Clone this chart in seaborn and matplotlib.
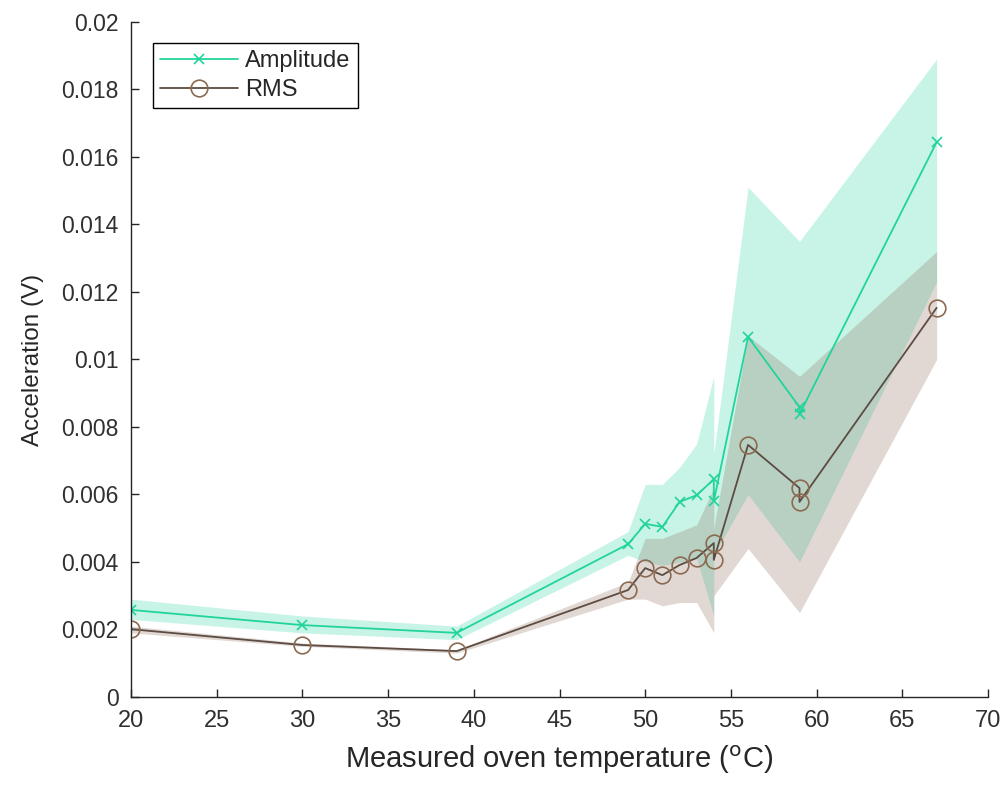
import matplotlib
matplotlib.use('Agg')
import matplotlib.pyplot as plt
import numpy as np
import pandas as pd
import seaborn as sns

# measured oven temperature (degC), repeated readings at 54 and 59
temp = [20, 30, 39, 49, 50, 51, 52, 53, 54, 54, 56, 59, 59, 67]

# amplitude (V) with its band
amp = [0.00258, 0.00213, 0.00190, 0.00453, 0.00513, 0.00504, 0.00578,
       0.00598, 0.00645, 0.00580, 0.01067, 0.00859, 0.00838, 0.01644]
amp_hi = [0.0029, 0.0024, 0.0021, 0.0049, 0.0063, 0.0063, 0.0068,
          0.0075, 0.0095, 0.0072, 0.0151, 0.0135, 0.0135, 0.0189]
amp_lo = [0.0023, 0.0019, 0.0017, 0.0042, 0.0040, 0.0039, 0.0040,
          0.0041, 0.0024, 0.0042, 0.0060, 0.0040, 0.0040, 0.0123]

# RMS (V) with its band
rms = [0.00201, 0.00154, 0.00136, 0.00317, 0.00382, 0.00361, 0.00391,
       0.00412, 0.00456, 0.00406, 0.00747, 0.00619, 0.00578, 0.01153]
rms_hi = [0.0021, 0.0016, 0.0014, 0.0034, 0.0047, 0.0047, 0.0049,
          0.0051, 0.0062, 0.0050, 0.0107, 0.0095, 0.0095, 0.0132]
rms_lo = [0.0019, 0.0015, 0.0013, 0.0029, 0.0029, 0.0027, 0.0028,
          0.0028, 0.0019, 0.0030, 0.0044, 0.0025, 0.0025, 0.0100]

amp_col = '#22d49c'
rms_line = '#5c4c42'
rms_mark = '#8c6a52'

sns.set_style("ticks")
plt.rcParams['font.family'] = ['Liberation Sans', 'DejaVu Sans']

df = pd.DataFrame({'temp': temp, 'amp': amp, 'rms': rms})

fig = plt.figure(figsize=(10.03, 7.85), dpi=100)
ax = fig.add_axes([0.1306, 0.1121, 0.8545, 0.8599])

ax.fill_between(temp, amp_lo, amp_hi, color=amp_col, alpha=0.25, lw=0)
ax.fill_between(temp, rms_lo, rms_hi, color='#8c6c5a', alpha=0.26, lw=0)

sns.lineplot(data=df, x='temp', y='amp', ax=ax, sort=False, estimator=None,
             color=amp_col, lw=1.3, marker='x', markersize=7,
             markeredgecolor=amp_col, markeredgewidth=1.2, label='Amplitude')
sns.lineplot(data=df, x='temp', y='rms', ax=ax, sort=False, estimator=None,
             color=rms_line, lw=1.3, marker='o', markersize=12,
             markerfacecolor='none', markeredgecolor=rms_mark,
             markeredgewidth=1.2, label='RMS')

ax.set_xlim(20, 70)
ax.set_ylim(0, 0.02)
ax.set_xticks(np.arange(20, 71, 5))
ax.set_yticks(np.arange(0, 0.0201, 0.002))
ax.yaxis.set_major_formatter(matplotlib.ticker.FormatStrFormatter('%g'))
ax.tick_params(direction='in', length=6, width=1,
               colors='#262626', labelcolor='#303030')
ax.tick_params(axis='x', pad=9, labelsize=17)
ax.tick_params(axis='y', pad=9, labelsize=16.5)
sns.despine(ax=ax)
for s in ['left', 'bottom']:
    ax.spines[s].set_color('#262626')
    ax.spines[s].set_linewidth(1)

ax.set_xlabel('Measured oven temperature ($^{\\mathrm{o}}$C)', fontsize=21,
              color='#262626', labelpad=9)
ax.set_ylabel('Acceleration (V)', fontsize=17.5, color='#262626', labelpad=12)

leg = ax.legend(loc='upper left', bbox_to_anchor=(0.0257, 0.969),
                fancybox=False, framealpha=1, edgecolor='black',
                fontsize=17, handlelength=3.3, borderaxespad=0,
                handletextpad=0.3, labelspacing=0.3, borderpad=0.3)
leg.get_frame().set_linewidth(1)

fig.savefig('out.png', dpi=100)
